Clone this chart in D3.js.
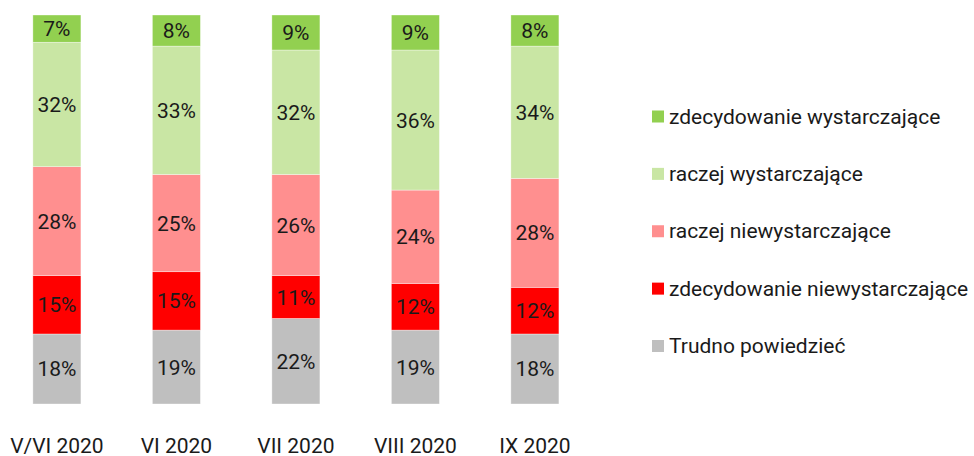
<!DOCTYPE html>
<html><head><meta charset="utf-8">
<script src="https://cdn.jsdelivr.net/npm/d3@7"></script>
<style>body{margin:0;background:#fff}svg{display:block}text{font-family:Roboto,"Noto Sans",sans-serif}</style>
</head><body>
<svg id="chart" width="974" height="456"></svg>
<script>
const categories = ["V/VI 2020", "VI 2020", "VII 2020", "VIII 2020", "IX 2020"];
const seriesNames = ["Trudno powiedzieć", "zdecydowanie niewystarczające", "raczej niewystarczające", "raczej wystarczające", "zdecydowanie wystarczające"];
const seriesColors = ["#BFBFBF", "#FF0000", "#FF8F8F", "#C9E6A4", "#92D050"];
const trudno = [18, 19, 22, 19, 18];
const zdecNiew = [15, 15, 11, 12, 12];
const raczejNiew = [28, 25, 26, 24, 28];
const raczejWyst = [32, 33, 32, 36, 34];
const zdecWyst = [7, 8, 9, 9, 8];
const seriesValues = [trudno, zdecNiew, raczejNiew, raczejWyst, zdecWyst];
const legendOrder = [4, 3, 2, 1, 0];

const rows = categories.map((c, i) => {
  const r = {cat: c};
  seriesNames.forEach((s, j) => r[s] = seriesValues[j][i]);
  return r;
});
const stacked = d3.stack().keys(seriesNames)(rows);

const svg = d3.select("#chart");
const x = d3.scaleBand().domain(categories).range([-2.85, 594.65]).paddingInner(0.598).paddingOuter(0.299);
const y = d3.scaleLinear().domain([0, 100]).range([404, 15]);

const g = svg.append("g");
stacked.forEach((layer, j) => {
  const lg = g.append("g");
  lg.selectAll("rect").data(layer).enter().append("rect")
    .attr("x", d => x(d.data.cat))
    .attr("width", x.bandwidth())
    .attr("y", d => y(d[1]))
    .attr("height", d => y(d[0]) - y(d[1]))
    .attr("fill", seriesColors[j])
    .attr("stroke", "#ffffff").attr("stroke-width", 0.6).attr("stroke-opacity", 0.6);
  lg.selectAll("text").data(layer).enter().append("text")
    .attr("x", d => x(d.data.cat) + x.bandwidth() / 2)
    .attr("y", d => (y(d[0]) + y(d[1])) / 2 + 7.5)
    .attr("text-anchor", "middle")
    .attr("font-size", 21).attr("fill", "#1a1a1a")
    .text(d => (d[1] - d[0]) + "%");
});

const xAxis = svg.append("g").attr("transform", "translate(0,404)")
  .call(d3.axisBottom(x).tickSize(0).tickPadding(0));
xAxis.select(".domain").remove();
xAxis.selectAll("text").attr("font-size", 21).attr("fill", "#1a1a1a").attr("font-family", "Roboto")
  .attr("dy", null).attr("y", 49.3);

const legend = svg.append("g").attr("transform", "translate(652,0)");
const ly = d3.scalePoint().domain(legendOrder).range([116.5, 346]);
legendOrder.forEach(j => {
  const item = legend.append("g").attr("transform", `translate(0,${ly(j)})`);
  item.append("rect").attr("x", 0).attr("y", -6).attr("width", 12).attr("height", 12).attr("fill", seriesColors[j]);
  item.append("text").attr("x", 17).attr("y", 7)
    .attr("font-size", 21).attr("fill", "#1a1a1a").text(seriesNames[j]);
});
</script>
</body></html>
